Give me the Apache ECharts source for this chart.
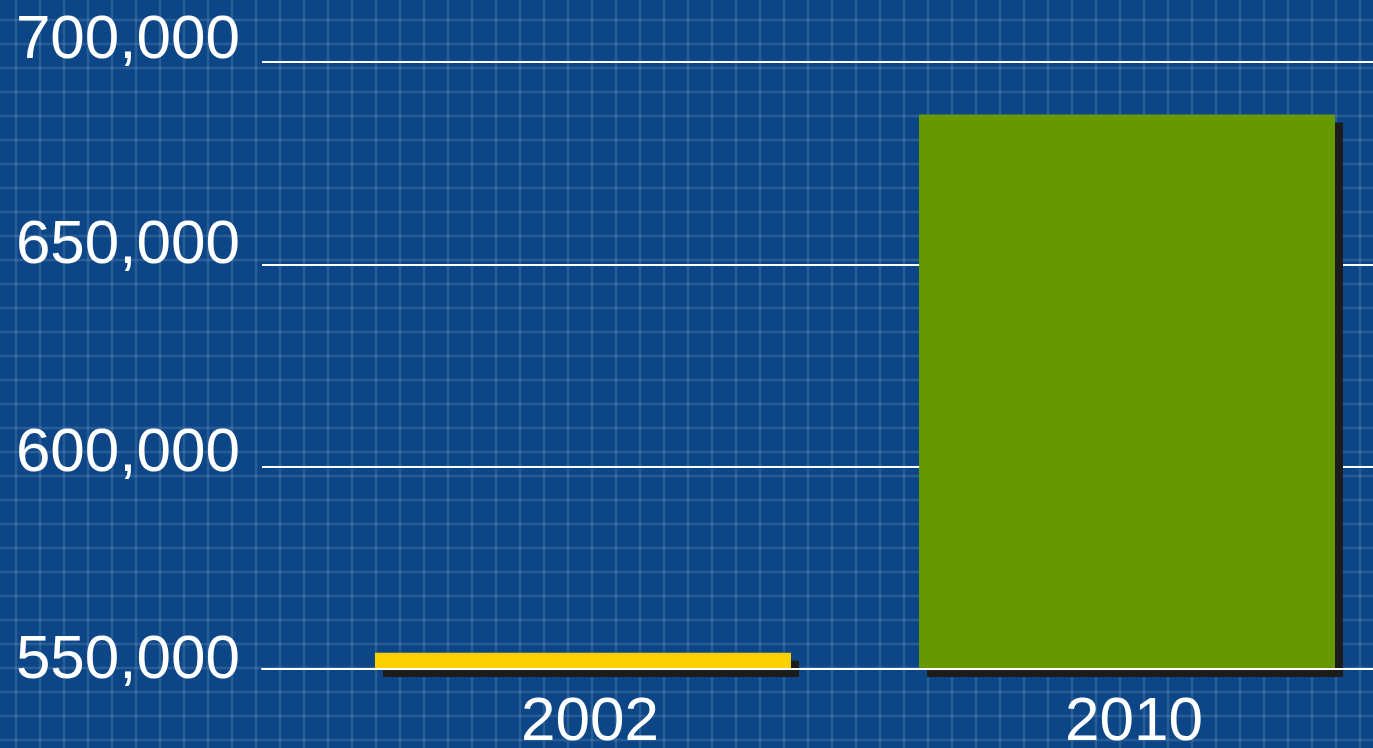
<!DOCTYPE html>
<html>
<head>
<meta charset="utf-8">
<script src="https://cdn.jsdelivr.net/npm/echarts@6/dist/echarts.min.js"></script>
<style>
  html, body { margin: 0; padding: 0; }
  #chart { width: 1373px; height: 748px; }
</style>
</head>
<body>
<div id="chart"></div>
<script>
// data
const years = ['2002', '2010']
const values = [554000, 687000]
const barColors = ['#ffd000', '#669900']
const yTicks = [550000, 600000, 650000, 700000]

const font = '"Liberation Sans", Arial, sans-serif'
const yMin = yTicks[0]
const yMax = yTicks[yTicks.length - 1]
const yStep = yTicks[1] - yTicks[0]

// the labels sit a little above their lines, more so higher up
let rich = {}
;[16, 26, 36, 42].forEach((p, i) => {
  rich['r' + i] = { fontSize: 62, fontFamily: font, color: '#fff', padding: [0, 0, p, 0] }
})

// blueprint paper tile for the background
function gridTile() {
  let c = document.createElement('canvas')
  c.width = 24
  c.height = 24
  let ctx = c.getContext('2d')
  ctx.fillStyle = '#0c4686'
  ctx.fillRect(0, 0, 24, 24)
  let line = (a, x, y, w, h) => {
    ctx.fillStyle = 'rgba(110, 150, 195, ' + a + ')'
    ctx.fillRect(x, y, w, h)
  }
  line(0.08, 14, 0, 1, 24); line(0.3, 15, 0, 2, 24); line(0.08, 17, 0, 1, 24)
  line(0.08, 0, 18, 24, 1); line(0.3, 0, 19, 24, 2); line(0.08, 0, 21, 24, 1)
  return c
}

const chart = echarts.init(document.getElementById('chart'))
chart.setOption({
  animation: false,
  backgroundColor: { image: gridTile(), repeat: 'repeat' },
  grid: [
    { left: 262, right: 0, top: 62, bottom: 79, outerBoundsMode: 'none' },
    { left: 311, width: 1088, top: 62, bottom: 79, outerBoundsMode: 'none' }
  ],
  xAxis: [
    {
      gridIndex: 0,
      type: 'category',
      data: years,
      z: 10,
      axisLine: { lineStyle: { color: '#fff', width: 2 } },
      axisTick: { show: false },
      axisLabel: { show: false }
    },
    {
      gridIndex: 1,
      type: 'category',
      data: years,
      axisLine: { show: false },
      axisTick: { show: false },
      axisLabel: {
        color: '#fff',
        fontSize: 62,
        fontFamily: font,
        margin: 23,
        padding: [0, 0, 0, 14]
      }
    }
  ],
  yAxis: [
    {
      gridIndex: 0,
      type: 'value',
      min: yMin,
      max: yMax,
      interval: yStep,
      axisLine: { show: false },
      axisTick: { show: false },
      splitLine: { lineStyle: { color: '#fff', width: 2 } },
      axisLabel: {
        margin: 22,
        formatter(v) {
          let i = Math.round((v - yMin) / yStep)
          return '{r' + i + '|' + v.toLocaleString('en-US') + '}'
        },
        rich
      }
    },
    {
      gridIndex: 1,
      type: 'value',
      min: yMin,
      max: yMax,
      interval: yStep,
      show: false
    }
  ],
  series: [{
    type: 'bar',
    xAxisIndex: 1,
    yAxisIndex: 1,
    data: values,
    barWidth: 416,
    itemStyle: {
      color: p => barColors[p.dataIndex],
      shadowColor: '#1c1c1c',
      shadowBlur: 0,
      shadowOffsetX: 8,
      shadowOffsetY: 8
    },
    emphasis: { disabled: true }
  }]
})
</script>
</body>
</html>
